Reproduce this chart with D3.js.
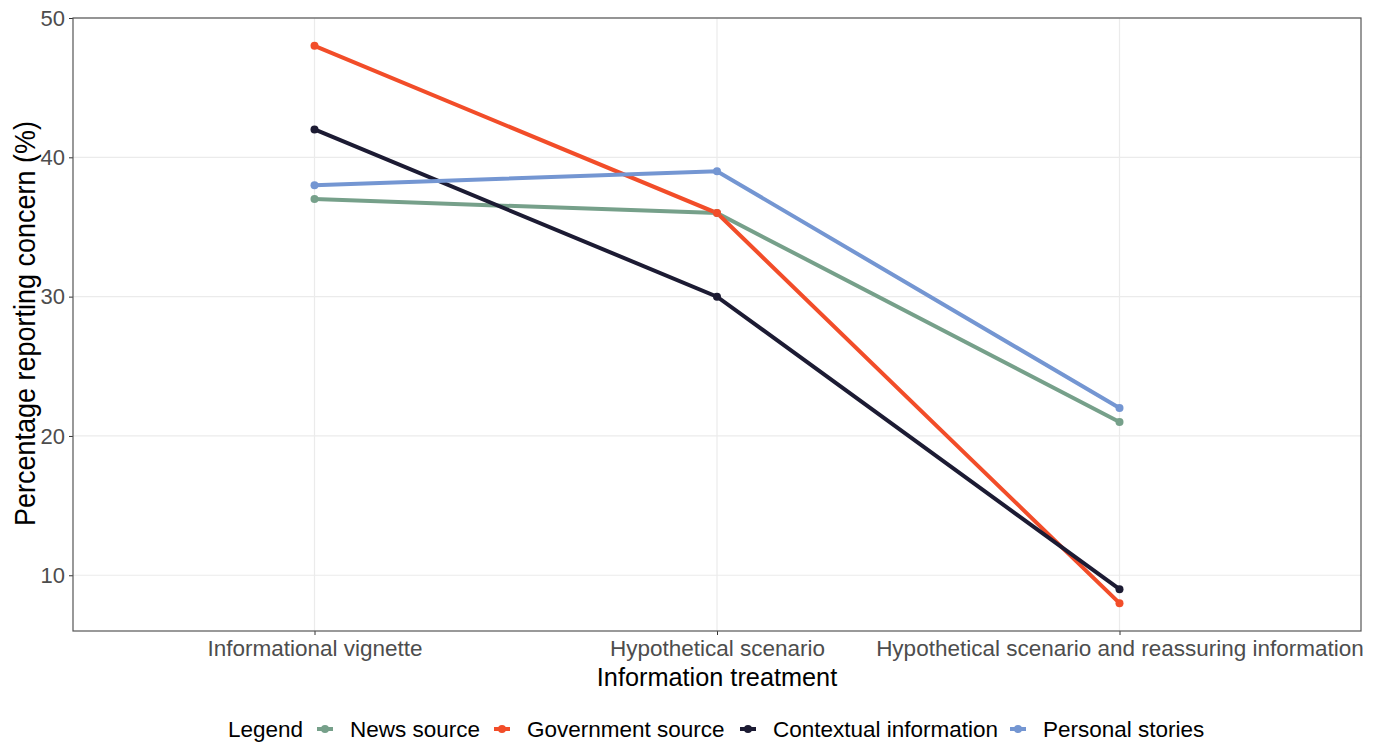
<!DOCTYPE html>
<html><head><meta charset="utf-8">
<script src="https://cdn.jsdelivr.net/npm/d3@7"></script>
<style>body{margin:0;background:#fff}svg{display:block;font-family:"Liberation Sans",Arial,sans-serif}</style>
</head><body><svg id="c" width="1379" height="742"></svg>
<script>
const categories = ["Informational vignette","Hypothetical scenario","Hypothetical scenario and reassuring information"];
const seriesNames = ["News source","Government source","Contextual information","Personal stories"];
const newsSource = [37,36,21];
const governmentSource = [48,36,8];
const contextualInfo = [42,30,9];
const personalStories = [38,39,22];
const yTicks = [10,20,30,40,50];
const colors = ["#76A08A","#F24D29","#1C1B33","#7496D2"];
const seriesValues = [newsSource, governmentSource, contextualInfo, personalStories];

const svg = d3.select("#c");
const L=73, R=1361, T=18, B=631;
const x = d3.scalePoint().domain(categories).range([L,R]).padding(0.6);
const y = d3.scaleLinear().domain([6,50]).range([B,T]);

const g = svg.append("g");
g.selectAll(".gy").data(yTicks).join("line").attr("x1",L).attr("x2",R)
 .attr("y1",d=>y(d)).attr("y2",d=>y(d)).attr("stroke","#ebebeb").attr("stroke-width",1.2);
g.selectAll(".gx").data(categories).join("line").attr("y1",T).attr("y2",B)
 .attr("x1",d=>x(d)).attr("x2",d=>x(d)).attr("stroke","#ebebeb").attr("stroke-width",1.2);

const ya = svg.append("g").attr("transform",`translate(${L},0)`)
 .call(d3.axisLeft(y).tickValues(yTicks).tickSize(4).tickPadding(4));
ya.select(".domain").remove();
ya.selectAll("line").attr("stroke","#333");
ya.selectAll("text").attr("fill","#4d4d4d").style("font-size","22px").attr("font-family","Liberation Sans, Arial, sans-serif");
const xa = svg.append("g").attr("transform",`translate(0,${B})`)
 .call(d3.axisBottom(x).tickSize(4).tickPadding(5));
xa.select(".domain").remove();
xa.selectAll("line").attr("stroke","#333");
xa.selectAll("text").attr("fill","#4d4d4d").style("font-size","22.5px").attr("font-family","Liberation Sans, Arial, sans-serif");

const line = d3.line().x((d,i)=>x(categories[i])).y(d=>y(d));
seriesValues.forEach((vals,si)=>{
  svg.append("path").datum(vals).attr("d",line).attr("fill","none")
   .attr("stroke",colors[si]).attr("stroke-width",4);
});
seriesValues.forEach((vals,si)=>{
  svg.selectAll(null).data(vals).join("circle").attr("cx",(d,i)=>x(categories[i])).attr("cy",d=>y(d))
   .attr("r",4).attr("fill",colors[si]);
});

svg.append("rect").attr("x",L).attr("y",T).attr("width",R-L).attr("height",B-T)
 .attr("fill","none").attr("stroke","#555").attr("stroke-width",1.2);

svg.append("text").attr("x",(L+R)/2).attr("y",686).attr("text-anchor","middle")
 .style("font-size","25.3px").attr("fill","#000").text("Information treatment");
svg.append("text").attr("transform",`translate(35,${(T+B)/2-1}) rotate(-90) scale(1,1.12)`).attr("text-anchor","middle")
 .style("font-size","27px").attr("fill","#000").text("Percentage reporting concern (%)");

const lg = svg.append("g");
lg.append("text").attr("x",228).attr("y",737).style("font-size","22.5px").text("Legend");
const keyX = [325,502,748,1018];
seriesNames.forEach((n,i)=>{
  lg.append("line").attr("x1",keyX[i]-8).attr("x2",keyX[i]+8).attr("y1",729).attr("y2",729)
   .attr("stroke",colors[i]).attr("stroke-width",4);
  lg.append("circle").attr("cx",keyX[i]).attr("cy",729).attr("r",4).attr("fill",colors[i]);
  lg.append("text").attr("x",keyX[i]+25).attr("y",737).style("font-size","22.5px").text(n);
});
</script></body></html>
